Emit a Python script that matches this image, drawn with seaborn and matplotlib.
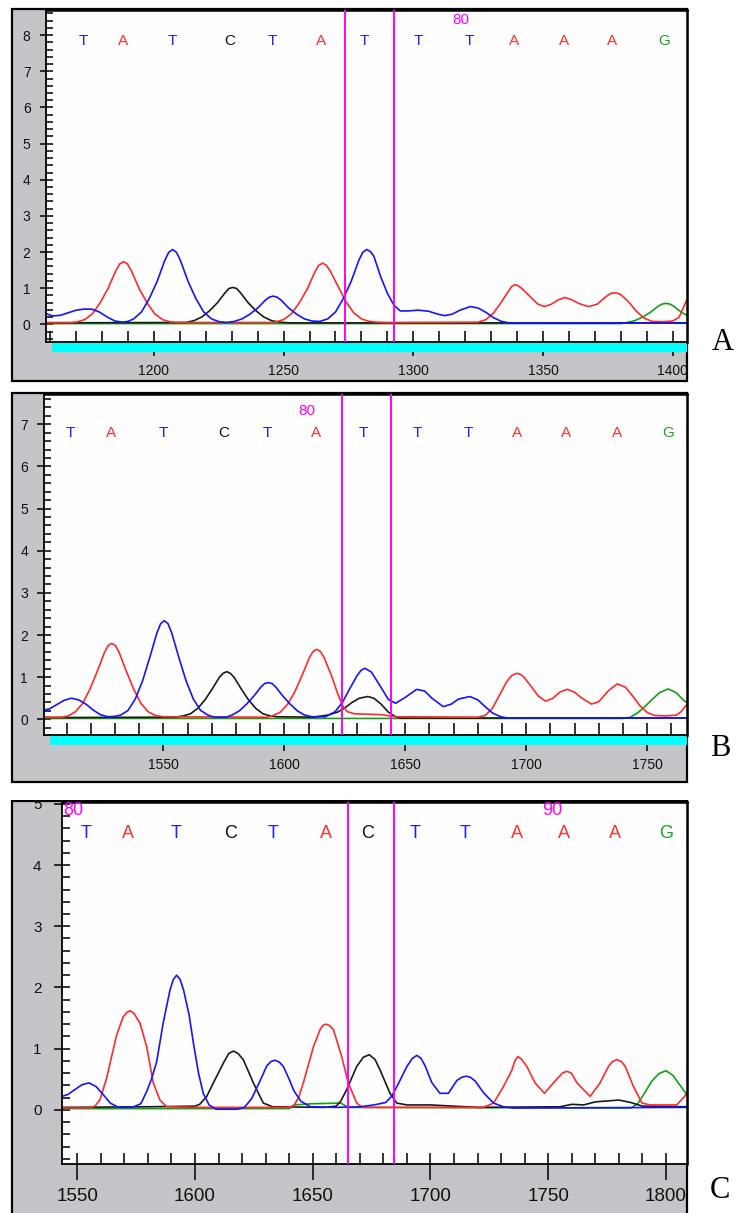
import matplotlib
matplotlib.use("Agg")
import matplotlib.pyplot as plt
import seaborn as sns
from matplotlib.patches import Rectangle
from matplotlib.ticker import MultipleLocator

sns.set_style("white")
plt.rcParams['font.family'] = ['Liberation Sans', 'DejaVu Sans']

# ---------------- data (scan position, signal) ----------------
A_blue = [(1158.2,0.30),(1161,0.23),(1164,0.25),(1167,0.32),(1170,0.39),(1173,0.42),(1176,0.42),(1179,0.34),(1182,0.20),(1185,0.09),(1188,0.06),(1190,0.08),(1192.2,0.15),(1195.2,0.34),(1198.2,0.71),(1201.2,1.18),(1204.2,1.77),(1205.7,1.99),(1207.2,2.07),(1208.7,1.99),(1210.2,1.77),(1213.2,1.18),(1216.2,0.71),(1219.2,0.34),(1222.2,0.15),(1225.2,0.07),(1228,0.05),(1231,0.08),(1234,0.15),(1237,0.28),(1240,0.45),(1243,0.67),(1244.5,0.75),(1246,0.78),(1247.5,0.75),(1249,0.67),(1252,0.45),(1255,0.28),(1258,0.15),(1261,0.09),(1264,0.08),(1267,0.15),(1270,0.34),(1273,0.71),(1276,1.18),(1279,1.77),(1280.5,1.99),(1282,2.07),(1283.5,2.01),(1284.8,1.88),(1287.4,1.32),(1290,0.86),(1292.5,0.53),(1295,0.37),(1298,0.37),(1302,0.39),(1306,0.36),(1309,0.29),(1312,0.24),(1315,0.28),(1318,0.39),(1322,0.49),(1325,0.45),(1328,0.33),(1331,0.18),(1334,0.08),(1337,0.04),(1405.4,0.03)]
A_red = [(1158.2,0.05),(1168,0.05),(1170.3,0.065),(1173.3,0.13),(1176.3,0.29),(1179.3,0.60),(1182.3,0.99),(1185.3,1.48),(1186.8,1.67),(1188.3,1.73),(1189.8,1.67),(1191.3,1.48),(1194.3,0.99),(1197.3,0.60),(1200.3,0.29),(1203.3,0.13),(1206.3,0.065),(1210,0.05),(1245,0.05),(1247,0.065),(1250,0.13),(1253,0.29),(1256,0.59),(1259,0.96),(1262,1.44),(1263.5,1.63),(1265,1.69),(1266.5,1.63),(1268,1.47),(1271,1.05),(1274,0.63),(1277,0.32),(1280,0.15),(1283,0.08),(1286,0.06),(1290,0.05),(1325,0.06),(1328,0.13),(1331,0.32),(1334,0.62),(1337,0.95),(1338,1.05),(1339.2,1.10),(1340.6,1.06),(1342,0.98),(1345,0.77),(1348,0.56),(1350.5,0.49),(1353,0.55),(1356,0.68),(1358.4,0.74),(1361,0.68),(1364,0.57),(1367.6,0.49),(1371,0.56),(1374,0.75),(1376,0.85),(1377.4,0.87),(1378.8,0.86),(1380,0.82),(1383,0.62),(1386,0.36),(1389,0.17),(1392,0.08),(1396,0.07),(1400,0.09),(1402.5,0.20),(1405.4,0.67)]
A_black = [(1158.2,0.04),(1212.4,0.05),(1215.4,0.10),(1218.4,0.20),(1221.4,0.37),(1224.4,0.59),(1227.4,0.87),(1228.9,0.99),(1230.4,1.02),(1231.9,0.99),(1233.4,0.87),(1236.4,0.59),(1239.4,0.37),(1242.4,0.20),(1245.4,0.10),(1248.4,0.06),(1252,0.04),(1405.4,0.04)]
A_green = [(1158.2,0.02),(1380,0.02),(1382.4,0.05),(1385.4,0.10),(1388.4,0.20),(1391.4,0.33),(1394.4,0.50),(1395.9,0.56),(1397.4,0.58),(1398.9,0.56),(1400.4,0.50),(1403.4,0.33),(1405.4,0.25)]

B_blue = [(1500.8,0.22),(1503,0.25),(1506,0.35),(1509,0.45),(1512,0.50),(1515,0.46),(1518,0.36),(1521,0.22),(1524,0.11),(1527,0.06),(1530,0.07),(1532.4,0.10),(1535.4,0.21),(1538.4,0.48),(1541.4,0.91),(1544.4,1.47),(1547.4,2.06),(1548.9,2.27),(1550.4,2.34),(1551.9,2.27),(1553.4,2.06),(1556.4,1.47),(1559.4,0.91),(1562.4,0.48),(1565.4,0.21),(1568.4,0.10),(1571,0.05),(1576,0.05),(1578.4,0.10),(1581.4,0.20),(1584.4,0.36),(1587.4,0.55),(1590.4,0.77),(1591.9,0.85),(1593.4,0.87),(1594.9,0.85),(1596.4,0.77),(1599.4,0.55),(1602.4,0.36),(1605.4,0.20),(1608.4,0.10),(1611.4,0.06),(1617,0.06),(1621,0.18),(1624,0.40),(1627,0.72),(1630,1.03),(1631.7,1.16),(1633.3,1.21),(1636,1.12),(1639.5,0.80),(1643,0.47),(1646,0.38),(1650,0.52),(1654.7,0.71),(1658,0.67),(1661,0.50),(1665.7,0.30),(1669,0.36),(1672,0.48),(1676.7,0.54),(1680,0.46),(1683,0.30),(1686,0.15),(1689,0.07),(1692,0.03),(1766.3,0.03)]
B_red = [(1500.8,0.05),(1508,0.05),(1510.7,0.08),(1513.7,0.18),(1516.7,0.38),(1519.7,0.72),(1522.7,1.14),(1525.7,1.59),(1527.2,1.75),(1528.7,1.80),(1530.2,1.75),(1531.7,1.59),(1534.7,1.14),(1537.7,0.72),(1540.7,0.38),(1543.7,0.18),(1546.7,0.09),(1550,0.06),(1593,0.05),(1595.4,0.09),(1598.4,0.17),(1601.4,0.36),(1604.4,0.66),(1607.4,1.05),(1610.4,1.47),(1611.9,1.61),(1613.4,1.66),(1614.9,1.61),(1616.4,1.47),(1619.4,1.05),(1622,0.62),(1624,0.33),(1626,0.18),(1629,0.13),(1640,0.11),(1646,0.06),(1680,0.05),(1683,0.09),(1686,0.26),(1689,0.58),(1692,0.90),(1694,1.04),(1696,1.09),(1697.5,1.07),(1699,1.00),(1702,0.78),(1705,0.55),(1708,0.43),(1711,0.50),(1714,0.65),(1717,0.71),(1720,0.64),(1723,0.50),(1727,0.36),(1730,0.42),(1734,0.68),(1737.6,0.84),(1741,0.76),(1744,0.55),(1747,0.32),(1750,0.16),(1753,0.09),(1758,0.08),(1762,0.10),(1764,0.18),(1766.3,0.35)]
B_black = [(1500.8,0.04),(1555,0.05),(1558.2,0.08),(1561.2,0.13),(1564.2,0.26),(1567.2,0.46),(1570.2,0.72),(1573.2,1.00),(1574.7,1.09),(1576.2,1.13),(1577.7,1.09),(1579.2,1.00),(1582.2,0.72),(1585.2,0.46),(1588.2,0.26),(1591.2,0.13),(1594.2,0.08),(1597,0.06),(1612,0.05),(1618,0.10),(1622,0.17),(1625,0.27),(1628,0.40),(1631,0.50),(1634.5,0.54),(1637,0.50),(1640,0.36),(1643,0.17),(1646,0.06),(1648,0.03),(1766.3,0.03)]
B_green = [(1500.8,0.02),(1740,0.02),(1743,0.05),(1746,0.15),(1749,0.30),(1752,0.47),(1755,0.63),(1758.7,0.72),(1762,0.63),(1765,0.45),(1766.3,0.40)]

C_blue = [(1543.4,0.22),(1546,0.25),(1549,0.33),(1552,0.41),(1555,0.44),(1558,0.38),(1561,0.25),(1564,0.11),(1567,0.05),(1572,0.04),(1574,0.05),(1577,0.10),(1579.5,0.30),(1581.5,0.50),(1583.7,0.78),(1586.5,1.42),(1589.4,1.96),(1590.8,2.13),(1592.2,2.20),(1593.7,2.13),(1595.2,1.95),(1597.5,1.55),(1599.5,1.05),(1601.5,0.60),(1603.5,0.27),(1606,0.08),(1609,0.01),(1618,0.01),(1621,0.04),(1624,0.18),(1627.6,0.47),(1630.5,0.72),(1632.3,0.79),(1634,0.81),(1635.8,0.78),(1637.5,0.71),(1640,0.50),(1642,0.31),(1645,0.14),(1649,0.05),(1660,0.04),(1670,0.05),(1676,0.08),(1681,0.12),(1683.5,0.22),(1686,0.40),(1690,0.71),(1692.3,0.84),(1694.2,0.89),(1696,0.84),(1697.7,0.72),(1700.5,0.45),(1704,0.27),(1707.6,0.27),(1711.2,0.48),(1713.2,0.53),(1715.1,0.55),(1717,0.53),(1719,0.47),(1722.5,0.28),(1726.8,0.11),(1731,0.05),(1735,0.03),(1808.8,0.04)]
C_red = [(1543.4,0.03),(1555,0.03),(1557.5,0.06),(1559.6,0.16),(1562.5,0.52),(1566.7,1.22),(1569.5,1.52),(1571,1.59),(1572.4,1.62),(1574.2,1.57),(1576.6,1.42),(1579.5,1.03),(1582.3,0.44),(1585.1,0.16),(1588,0.05),(1600,0.04),(1640,0.04),(1642,0.07),(1644,0.20),(1646,0.44),(1650.3,1.03),(1653.1,1.31),(1654.3,1.38),(1655.6,1.40),(1657,1.38),(1658.8,1.31),(1662.3,0.87),(1665.1,0.44),(1668.7,0.11),(1671,0.04),(1722.5,0.04),(1726.8,0.11),(1731,0.38),(1734.6,0.65),(1735.8,0.80),(1737.1,0.87),(1738.6,0.83),(1740.9,0.71),(1744.4,0.44),(1748.4,0.27),(1752.2,0.44),(1756,0.60),(1757.9,0.63),(1759.8,0.60),(1762.2,0.44),(1767.8,0.22),(1772,0.44),(1775.6,0.71),(1777.3,0.79),(1779.1,0.82),(1781,0.79),(1782.7,0.71),(1786.2,0.38),(1789.8,0.11),(1793.3,0.08),(1804.6,0.08),(1808.8,0.26)]
C_black = [(1543.4,0.04),(1580,0.05),(1600,0.06),(1602,0.09),(1605,0.22),(1607.8,0.44),(1612,0.76),(1614.3,0.92),(1616.3,0.96),(1618.3,0.92),(1620.5,0.82),(1624.8,0.44),(1629,0.11),(1633,0.05),(1655,0.04),(1660,0.06),(1662,0.15),(1664.4,0.33),(1668.7,0.71),(1671.5,0.86),(1674,0.90),(1676.5,0.82),(1678.6,0.65),(1682.8,0.27),(1685.7,0.11),(1690,0.08),(1700,0.08),(1710,0.06),(1720,0.04),(1755,0.05),(1760,0.09),(1765,0.08),(1770,0.13),(1780,0.16),(1785,0.12),(1790,0.06),(1808.8,0.05)]
C_green = [(1543.4,0.02),(1640,0.02),(1642,0.08),(1650,0.10),(1662,0.11),(1665,0.04),(1785,0.03),(1788,0.10),(1791,0.28),(1794,0.47),(1797,0.59),(1800,0.64),(1803,0.56),(1806,0.40),(1808.8,0.25)]

A_calls = list("TATCTATTTAAAG")
A_call_x = [1172.7, 1188.0, 1207.0, 1229.1, 1245.7, 1264.6, 1281.0, 1301.9, 1321.6, 1339.0, 1358.1, 1376.6, 1396.8]
B_calls = list("TATCTATTTAAAG")
B_call_x = [1511.4, 1528.3, 1550.0, 1575.1, 1593.0, 1613.1, 1632.6, 1655.0, 1676.2, 1696.0, 1716.3, 1737.4, 1758.7]
C_calls = list("TATCTACTTAAAG")
C_call_x = [1553.6, 1571.4, 1591.8, 1615.2, 1633.3, 1655.5, 1673.3, 1693.5, 1714.7, 1736.7, 1756.5, 1778.4, 1800.1]

A_cursor = [1273.6, 1292.5]
B_cursor = [1623.7, 1644.0]
C_cursor = [1664.9, 1684.5]

A_pos_labels = ["80"]
A_pos_x = [1318.3]
B_pos_labels = ["80"]
B_pos_x = [1609.5]
C_pos_labels = ["80", "90"]
C_pos_x = [1548.3, 1751.5]

# ---------------- styling ----------------
W, H, DPI = 736, 1213, 100
GRAY = '#c5c4c8'
TRACE_COLORS = {'blue': '#1414ff', 'red': '#ff2a2a', 'black': '#1a1a1a', 'green': '#12a012'}
BASE_COLORS = {'T': '#1e1eff', 'A': '#ff3030', 'C': '#111111', 'G': '#1aa01a'}
MAGENTA = '#ff00ff'

fig = plt.figure(figsize=(W / DPI, H / DPI), dpi=DPI)
fig.patch.set_facecolor('white')


def fx(px):
    return px / W


def fy(py):
    return 1 - py / H


def frame(x0, y0, x1, y1):
    r = Rectangle((fx(x0), fy(y1)), fx(x1) - fx(x0), fy(y0) - fy(y1),
                  transform=fig.transFigure, facecolor=GRAY, edgecolor='black',
                  lw=1.6, zorder=-10)
    fig.add_artist(r)


def panel(box, xlim, ylim, traces, calls, call_x, call_y, cursor, pos_labels, pos_x, pos_y,
          call_fs, xlab_fs, ylab_fs, xt, yt, xpad, ypad, cyan=None):
    x0, y0, x1, y1 = box
    ax = fig.add_axes([fx(x0), fy(y1), fx(x1) - fx(x0), fy(y0) - fy(y1)])
    ax.set_facecolor('#fefefe')
    for name, tr in traces:
        sns.lineplot(x=[p[0] for p in tr], y=[p[1] for p in tr], ax=ax,
                     color=TRACE_COLORS[name], linewidth=1.2, sort=False,
                     estimator=None, legend=False)
    for cx in cursor:
        ax.axvline(cx, color=MAGENTA, lw=1.4, zorder=3)
    for b, bx in zip(calls, call_x):
        ax.text(bx, call_y, b, color=BASE_COLORS[b], fontsize=call_fs,
                ha='center', va='center')
    for lab, lx in zip(pos_labels, pos_x):
        ax.text(lx, pos_y, lab, color=MAGENTA, fontsize=call_fs,
                ha='center', va='center')
    ax.set_xlim(*xlim)
    ax.set_ylim(*ylim)
    ax.set_xlabel('')
    ax.set_ylabel('')
    ax.xaxis.set_major_locator(MultipleLocator(50))
    ax.xaxis.set_minor_locator(MultipleLocator(10))
    ax.yaxis.set_major_locator(MultipleLocator(1))
    ax.yaxis.set_minor_locator(MultipleLocator(0.2))
    ax.xaxis.remove_overlapping_locs = False
    ax.yaxis.remove_overlapping_locs = False
    ax.tick_params(axis='x', which='major', direction='out', length=xt[0], width=1.2,
                   labelsize=xlab_fs, pad=xpad, colors='#111111', bottom=True)
    ax.tick_params(axis='x', which='minor', direction='in', length=xt[1], width=1.2,
                   colors='#111111', bottom=True)
    ax.tick_params(axis='y', which='major', direction='out', length=yt[0], width=1.2,
                   labelsize=ylab_fs, pad=ypad, colors='#111111', left=True)
    ax.tick_params(axis='y', which='minor', direction='in', length=yt[1], width=1.2,
                   colors='#111111', left=True)
    for s in ['left', 'bottom']:
        ax.spines[s].set_color('black')
        ax.spines[s].set_linewidth(1.3)
    for s in ['top', 'right']:
        ax.spines[s].set_color('black')
        ax.spines[s].set_linewidth(1.8)
    ax.grid(False)
    if cyan is not None:
        cx0, cy0, ch = cyan
        ax.add_patch(Rectangle((cx0, cy0), 1 - cx0, ch, transform=ax.transAxes,
                               facecolor='#00ffff', edgecolor='none', clip_on=False, zorder=1))
    return ax


# Panel A
frame(12, 9, 687, 381)
panel((45.5, 9.5, 686.7, 342.3), (1158.2, 1405.4), (-0.498, 8.71),
      [('green', A_green), ('black', A_black), ('red', A_red), ('blue', A_blue)],
      A_calls, A_call_x, 7.83, A_cursor, A_pos_labels, A_pos_x, 8.41,
      11, 10, 10, (10.4, 7.9), (4.3, 5.0), 5.5, 6.5,
      cyan=((52 - 45.5) / 641.2, -(352 - 342.3) / 332.8, 9.0 / 332.8))

# Panel B
frame(12, 393.3, 687, 781.5)
panel((44.3, 394, 686.7, 735), (1500.8, 1766.3), (-0.373, 7.72),
      [('green', B_green), ('black', B_black), ('red', B_red), ('blue', B_blue)],
      B_calls, B_call_x, 6.8, B_cursor, B_pos_labels, B_pos_x, 7.32,
      11, 10, 10, (11.3, 8.4), (4.8, 5.0), 5.5, 7.0,
      cyan=((50 - 44.3) / 642.4, -(745 - 735) / 341.0, 9.3 / 341.0))

# Panel C
frame(12, 801, 687, 1225)
panel((61.7, 802, 686.7, 1164.3), (1543.4, 1808.8), (-0.89, 5.03),
      [('green', C_green), ('black', C_black), ('red', C_red), ('blue', C_blue)],
      C_calls, C_call_x, 4.52, C_cursor, C_pos_labels, C_pos_x, 4.89,
      13, 13.5, 11, (11.3, 7.9), (6.0, 6.0), 5.5, 8.5)

# hide the part of the clipped top label of panel C above its frame
fig.add_artist(Rectangle((0, fy(800.3)), 1, fy(784) - fy(800.3), transform=fig.transFigure,
                         facecolor='white', edgecolor='none', zorder=20))

# panel letters
for lab, px, py in [('A', 723, 343), ('B', 720, 748), ('C', 720, 1190)]:
    fig.text(fx(px), fy(py), lab, fontsize=22, family='Liberation Serif',
             ha='center', va='center', color='black')

fig.savefig('out.png', dpi=DPI, facecolor='white')
